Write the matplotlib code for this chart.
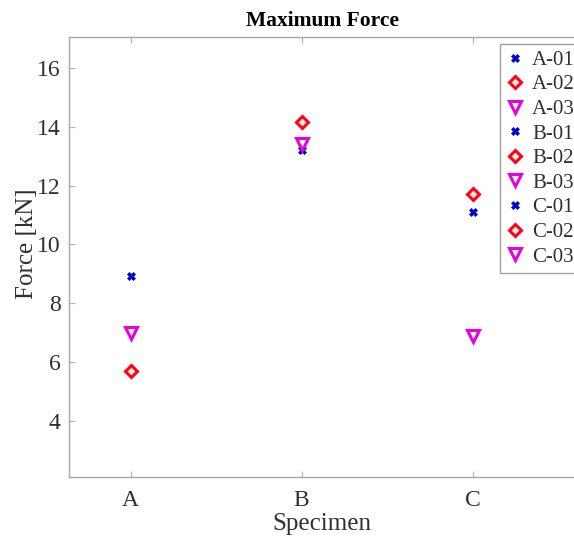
import matplotlib
matplotlib.use("Agg")
import matplotlib.pyplot as plt

specimens = ["A", "B", "C"]
labels = ["A-01", "A-02", "A-03", "B-01", "B-02", "B-03", "C-01", "C-02", "C-03"]
values = [8.93, 5.70, 6.98, 13.22, 14.15, 13.40, 11.10, 11.70, 6.90]
groups = [0, 0, 0, 1, 1, 1, 2, 2, 2]
kinds = ["x", "d", "v", "x", "d", "v", "x", "d", "v"]

plt.rcParams['font.family'] = ['Liberation Serif', 'DejaVu Serif']

fig = plt.figure(figsize=(5.74, 5.44), dpi=100)
ax = fig.add_axes([69/574, 1-477/544, 1.0-69/574+0.002, (477-37)/544])

styles = {
    "x": dict(marker="X", color="#0000d0", markersize=6, markeredgewidth=0.5, markerfacecolor="#0000d0", markeredgecolor="#0000d0"),
    "d": dict(marker="D", markersize=6, markeredgewidth=2.2, markerfacecolor="#fff2d0", markeredgecolor="#ff0020"),
    "v": dict(marker="v", markersize=8, markeredgewidth=2.2, markerfacecolor="white", markeredgecolor="#e800e0"),
}

for lab, val, g, k in zip(labels, values, groups, kinds):
    ax.plot([g + 1], [val], linestyle="none", label=lab, **styles[k])

ax.set_xlim(0.64, 3.6)
ax.set_ylim(2.1, 17.05)
ax.set_xticks([1, 2, 3])
ax.set_xticklabels(specimens)
ax.set_yticks([4, 6, 8, 10, 12, 14, 16])
ax.tick_params(axis="both", direction="in", length=4, color="#b0b0b0", labelsize=17, labelcolor="#303030", top=True, right=False)
ax.tick_params(axis="y", pad=6)
ax.tick_params(axis="x", pad=9)
for s in ["left", "bottom", "top"]:
    ax.spines[s].set_color("#a8a8a8")
    ax.spines[s].set_linewidth(1.0)
ax.spines["right"].set_visible(False)

ax.set_xlabel("Specimen", fontsize=18, color="#303030", labelpad=2)
ax.set_ylabel("Force [kN]", fontsize=18, color="#303030", labelpad=0)
ax.yaxis.set_label_coords(-0.062, 0.53)
ax.set_title("Maximum Force", fontsize=15.5, fontweight="bold", pad=8)

leg = ax.legend(loc="upper left", bbox_to_anchor=(500/574, 1-44/544), bbox_transform=fig.transFigure,
                fontsize=15, frameon=True, fancybox=False, framealpha=1, edgecolor="#a0a0a0",
                handlelength=0.8, handletextpad=0.45, labelspacing=0.24, borderpad=0.3, borderaxespad=0)
leg.get_frame().set_linewidth(1.0)
for t in leg.get_texts():
    t.set_color("#303030")

fig.savefig("out.png", dpi=100)
